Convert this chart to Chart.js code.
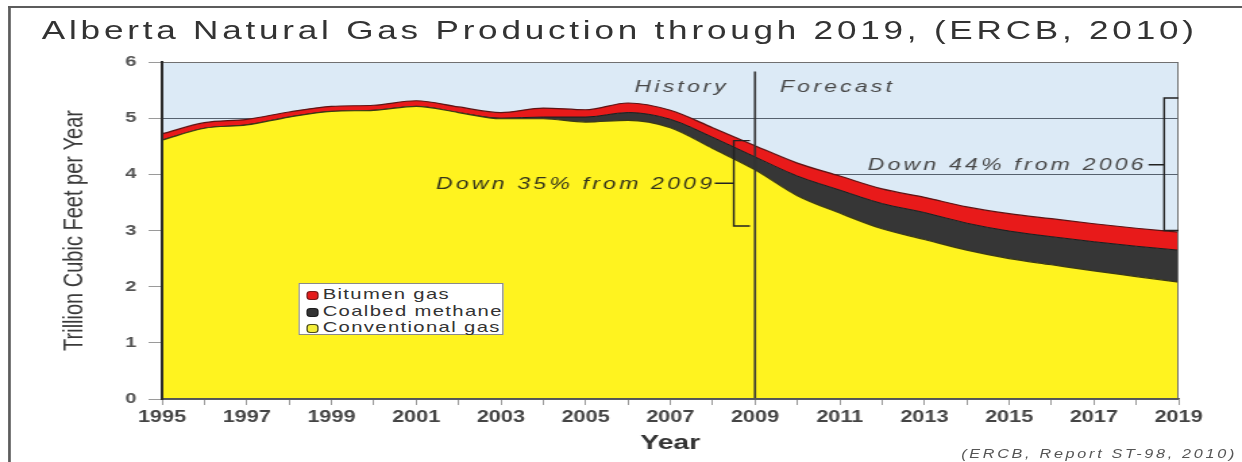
<!DOCTYPE html>
<html>
<head>
<meta charset="utf-8">
<script src="https://cdn.jsdelivr.net/npm/chart.js@4.4.1/dist/chart.umd.min.js"></script>
<style>
  html, body { margin: 0; padding: 0; background: #fff; overflow: hidden; }
  /* the original picture was stretched sideways, so draw at 920 wide and stretch */
  #stage { position: relative; width: 920px; height: 462px; transform: scaleX(1.35); transform-origin: 0 0;
           font-family: "Liberation Sans", Arial, sans-serif; }
  #frame { position: absolute; left: 6px; top: 6px; width: 920px; height: 470px;
           border-top: 2px solid #5c5c5c; border-left: 2px solid #5c5c5c; }
  #title { position: absolute; left: 31px; top: 14px; font-size: 26px; line-height: 32px;
           letter-spacing: 2.8px; color: #333; white-space: nowrap; }
  #chart { position: absolute; left: 0; top: 0; width: 920px; height: 462px; }
  #legend { position: absolute; left: 221px; top: 283px; width: 152px; height: 52px; box-sizing: border-box;
            background: #fff; border: 1px solid #8a8a8a; padding-top: 2px; }
  #legend div { height: 16.5px; line-height: 16.5px; font-size: 15px; letter-spacing: 1px; color: #333; white-space: nowrap; }
  #legend span { display: inline-block; width: 9px; height: 9px; border-radius: 3px; margin: 0 3px 0 5px;
                 box-sizing: border-box; vertical-align: -1px; }
  #source { position: absolute; left: 712px; top: 447px; font-size: 12px; font-style: italic;
            letter-spacing: 2px; color: #555; white-space: nowrap; }
</style>
</head>
<body>
<div id="stage">
  <div id="frame"></div>
  <div id="title">Alberta Natural Gas Production through 2019, (ERCB, 2010)</div>
  <canvas id="chart" width="920" height="462"></canvas>
  <div id="legend"></div>
  <div id="source">(ERCB, Report ST-98, 2010)</div>
</div>
<script>
// datos (trillion cubic feet por año)
const years = ['1995','1996','1997','1998','1999','2000','2001','2002','2003','2004','2005','2006','2007',
               '2008','2009','2010','2011','2012','2013','2014','2015','2016','2017','2018','2019'];
const tickYears = ['1995','1997','1999','2001','2003','2005','2007','2009','2011','2013','2015','2017','2019'];
const yTicks = [0, 1, 2, 3, 4, 5, 6];

const conventional = [4.61, 4.82, 4.88, 5.02, 5.12, 5.14, 5.21, 5.10, 4.99, 4.99, 4.93, 4.96, 4.83,
                      4.46, 4.08, 3.62, 3.31, 3.03, 2.84, 2.65, 2.50, 2.39, 2.28, 2.18, 2.08];
const coalbed      = [0, 0, 0, 0, 0, 0, 0, 0, 0.01, 0.03, 0.09, 0.14, 0.15,
                      0.20, 0.23, 0.35, 0.41, 0.45, 0.48, 0.48, 0.49, 0.50, 0.52, 0.54, 0.57];
const bitumen      = [0.11, 0.10, 0.10, 0.09, 0.09, 0.09, 0.10, 0.10, 0.10, 0.16, 0.13, 0.17, 0.16,
                      0.17, 0.20, 0.23, 0.25, 0.26, 0.27, 0.29, 0.31, 0.32, 0.32, 0.32, 0.32];

const legendNames = ['Bitumen gas', 'Coalbed methane', 'Conventional gas'];
const legendFill = ['#e41b1b', '#333333', '#f4ee3a'];
const legendEdge = ['#7a1a1a', '#1e1e1e', '#4a4a1a'];

// leyenda
document.getElementById('legend').innerHTML = legendNames.map((n, i) =>
  `<div><span style="background:${legendFill[i]};border:1px solid ${legendEdge[i]}"></span>${n}</div>`).join('');

// fondo celeste del area
const sky = {
  id: 'sky',
  beforeDraw(chart) {
    const { ctx, chartArea: a } = chart;
    ctx.save();
    ctx.fillStyle = '#dceaf6';
    ctx.fillRect(a.left, a.top, a.right - a.left, a.bottom - a.top);
    ctx.restore();
  }
};

// linea 2009, corchetes y textos
const notes = {
  id: 'notes',
  afterDatasetsDraw(chart) {
    const { ctx, chartArea: a, scales: { x, y } } = chart;
    const X = i => x.getPixelForValue(i);
    const Y = v => y.getPixelForValue(v);
    ctx.save();
    ctx.strokeStyle = '#707070'; ctx.lineWidth = 1;
    ctx.beginPath();
    ctx.moveTo(a.left, a.top + 0.5); ctx.lineTo(a.right - 0.5, a.top + 0.5); ctx.lineTo(a.right - 0.5, a.bottom);
    ctx.stroke();

    const xd = X(years.indexOf('2009'));
    ctx.strokeStyle = '#333'; ctx.lineWidth = 1.6;
    ctx.beginPath(); ctx.moveTo(xd, Y(5.83)); ctx.lineTo(xd, a.bottom); ctx.stroke();

    ctx.strokeStyle = '#222'; ctx.lineWidth = 1.4;
    // corchete 2009
    ctx.beginPath();
    ctx.moveTo(X(13.88), Y(4.6)); ctx.lineTo(X(13.5), Y(4.6)); ctx.lineTo(X(13.5), Y(3.08)); ctx.lineTo(X(13.88), Y(3.08));
    ctx.moveTo(X(13.05), Y(3.84)); ctx.lineTo(X(13.5), Y(3.84));
    ctx.stroke();
    // corchete 2019
    ctx.beginPath();
    ctx.moveTo(a.right, Y(5.36)); ctx.lineTo(X(23.66), Y(5.36)); ctx.lineTo(X(23.66), Y(3.0)); ctx.lineTo(a.right, Y(3.0));
    ctx.moveTo(X(23.29), Y(4.17)); ctx.lineTo(X(23.66), Y(4.17));
    ctx.stroke();

    ctx.font = 'italic 17px "Liberation Sans", Arial, sans-serif';
    ctx.letterSpacing = '2.4px';
    ctx.textBaseline = 'middle';
    ctx.fillStyle = '#484848';
    ctx.textAlign = 'right';
    ctx.fillText('History', X(13.38), Y(5.55));
    ctx.fillText('Down 44% from 2006', X(23.25), Y(4.17));
    ctx.fillStyle = '#34341a';
    ctx.fillText('Down 35% from 2009', X(13.06), Y(3.83));
    ctx.fillStyle = '#484848';
    ctx.textAlign = 'left';
    ctx.fillText('Forecast', X(14.59), Y(5.55));
    ctx.restore();
  }
};

new Chart(document.getElementById('chart'), {
  type: 'line',
  data: {
    labels: years,
    datasets: [
      { label: 'Conventional gas', data: conventional, backgroundColor: '#fff31f', borderColor: '#3c3a14',
        borderWidth: 1.2, fill: 'origin' },
      { label: 'Coalbed methane', data: coalbed, backgroundColor: '#363636', borderColor: '#1c1c1c',
        borderWidth: 1, fill: '-1' },
      { label: 'Bitumen gas', data: bitumen, backgroundColor: '#e81a1a', borderColor: '#5e1414',
        borderWidth: 1.2, fill: '-1' }
    ]
  },
  options: {
    responsive: false,
    animation: false,
    elements: { point: { radius: 0 }, line: { cubicInterpolationMode: 'monotone' } },
    layout: { padding: { top: 62, right: 47, left: 0, bottom: 0 } },
    plugins: { legend: { display: false }, tooltip: { enabled: false } },
    scales: {
      x: {
        grid: { drawOnChartArea: false, tickLength: 6, color: '#9a9a9a' },
        border: { color: '#555', width: 1.5, z: 1 },
        ticks: { autoSkip: false, maxRotation: 0, padding: 3, color: '#444',
                 font: { size: 16, weight: 'bold', family: '"Liberation Sans", Arial' },
                 callback: (v, i) => tickYears.includes(years[i]) ? years[i] : '' },
        title: { display: true, text: 'Year', color: '#333', padding: { top: 0, bottom: 6 },
                 font: { size: 21, weight: 'bold', family: '"Liberation Sans", Arial' } },
        afterFit: s => { s.height = 63; }
      },
      y: {
        stacked: true,
        min: 0, max: 6,
        afterBuildTicks: s => { s.ticks = yTicks.map(v => ({ value: v })); },
        grid: { color: '#56616e', lineWidth: 1, tickColor: '#9a9a9a', tickLength: 10 },
        border: { color: '#2c2c2c', width: 2, z: 1 },
        ticks: { padding: 9, color: '#555', font: { size: 15, weight: 'bold', family: '"Liberation Sans", Arial' } },
        title: { display: true, text: 'Trillion Cubic Feet per Year', color: '#3a3a3a', padding: { top: 43, bottom: 0 },
                 font: { size: 20, family: '"Liberation Sans", Arial' } },
        afterFit: s => { s.width = 120; }
      }
    }
  },
  plugins: [sky, notes]
});
</script>
</body>
</html>
